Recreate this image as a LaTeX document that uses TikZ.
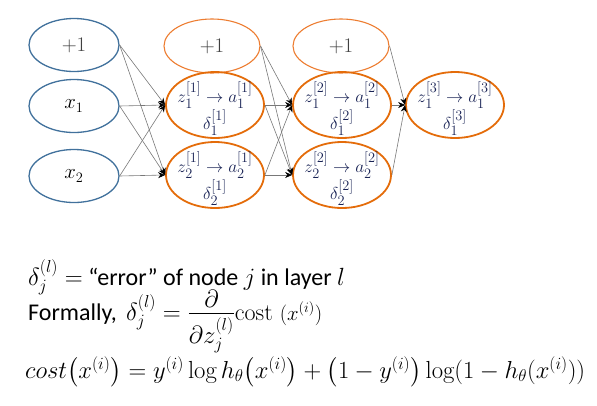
\documentclass[tikz,border=0pt]{standalone}
\usepackage{fontspec}
\setsansfont{Carlito}
\usepackage{amsmath}
\usetikzlibrary{arrows.meta,shapes.geometric}
\definecolor{inblue}{RGB}{65,113,156}
\definecolor{biasorange}{RGB}{237,125,49}
\definecolor{hidorange}{RGB}{228,108,10}
\definecolor{nodetext}{RGB}{25,35,85}
\definecolor{edgegray}{RGB}{120,120,120}
\definecolor{plusgray}{RGB}{64,64,64}
\begin{document}
\begin{tikzpicture}[x=1pt,y=-1pt,
  inp/.style={ellipse, draw=inblue, line width=1.3pt, minimum width=90pt, minimum height=53pt, inner sep=0pt, font=\fontsize{20}{24}\selectfont},
  bias/.style={ellipse, draw=biasorange, line width=1.1pt, minimum width=96pt, minimum height=54pt, inner sep=0pt, text=plusgray, font=\fontsize{20}{24}\selectfont},
  hid/.style={ellipse, draw=hidorange, line width=1.8pt, minimum width=98pt, minimum height=66pt, inner sep=0pt},
  hidlab/.style={yshift=-4pt, align=center, text=nodetext, font=\fontsize{19}{24}\selectfont},
  conn/.style={draw=edgegray, line width=0.6pt, -{Stealth[black,length=7pt,width=6pt]}},
  txt/.style={anchor=base west, inner sep=0pt, font=\sffamily\fontsize{24}{28}\selectfont}
]
\useasboundingbox (0,0) rectangle (597,405);
% input layer
\node[inp, text=plusgray] (b0) at (74,45) {$+1$};
\node[inp] (x1) at (74,106) {$x_1$};
\node[inp] (x2) at (74,176) {$x_2$};
% layer 1
\node[bias] (b1) at (212,46) {$+1$};
\node[hid, label={[hidlab]center:$z_1^{[1]}\rightarrow a_1^{[1]}$\\$\delta_1^{[1]}$}] (h11) at (215,105) {};
\node[hid, label={[hidlab]center:$z_2^{[1]}\rightarrow a_2^{[1]}$\\$\delta_2^{[1]}$}] (h21) at (215,175) {};
% layer 2
\node[bias] (b2) at (341,46) {$+1$};
\node[hid, label={[hidlab]center:$z_1^{[2]}\rightarrow a_1^{[2]}$\\$\delta_1^{[2]}$}] (h12) at (342,105) {};
\node[hid, label={[hidlab]center:$z_2^{[2]}\rightarrow a_2^{[2]}$\\$\delta_2^{[2]}$}] (h22) at (342,175) {};
% layer 3
\node[hid, label={[hidlab]center:$z_1^{[3]}\rightarrow a_1^{[3]}$\\$\delta_1^{[3]}$}] (h13) at (455,105) {};
% connections
\foreach \s in {b0,x1,x2} {
  \draw[conn] (\s.east) -- (h11.west);
  \draw[conn] (\s.east) -- (h21.west);
}
\foreach \s in {b1,h11,h21} {
  \draw[conn] (\s.east) -- (h12.west);
  \draw[conn] (\s.east) -- (h22.west);
}
\foreach \s in {b2,h12,h22} {
  \draw[conn] (\s.east) -- (h13.west);
}
% text
\node[txt] (t1) at (28,285) {$\delta_j^{(l)} = $ “error” of node $j$ in layer $l$};
\node[txt] (t2) at (28,320) {Formally,\, $\delta_j^{(l)} = \dfrac{\smash{\lower4pt\hbox{$\displaystyle\partial$}}}{\partial z_j^{(l)}}\mathrm{cost}\; \text{\fontsize{20}{22}\selectfont$(x^{(i)})$}$};
\node[anchor=base west, inner sep=0pt] (t3) at (25,378) {\resizebox{560pt}{!}{\fontsize{25}{30}\selectfont$cost\bigl(x^{(i)}\bigr) = y^{(i)}\log h_\theta\bigl(x^{(i)}\bigr) + \bigl(1-y^{(i)}\bigr)\log(1-h_\theta(x^{(i)}))$}};
\end{tikzpicture}
\end{document}
